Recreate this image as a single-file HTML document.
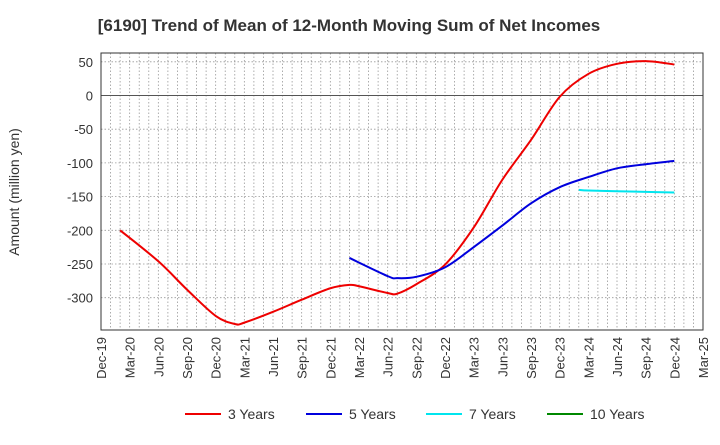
<!DOCTYPE html>
<html><head><meta charset="utf-8"><style>
body{margin:0;background:#fff;font-family:"Liberation Sans",sans-serif}
svg text{font-family:"Liberation Sans",sans-serif}
</style></head><body>
<svg id="c" width="720" height="440" xmlns="http://www.w3.org/2000/svg">
<text x="349" y="31" text-anchor="middle" font-size="17" font-weight="bold" fill="#333">[6190]  Trend of Mean of 12-Month Moving Sum of Net Incomes</text>
<text transform="translate(19,192) rotate(-90)" text-anchor="middle" font-size="14" fill="#333">Amount (million yen)</text>
<g id="grid"></g><g id="series"></g><g id="axes"></g><g id="legend"></g>
</svg>
<script>
const xLabels=["Dec-19","Mar-20","Jun-20","Sep-20","Dec-20","Mar-21","Jun-21","Sep-21","Dec-21","Mar-22","Jun-22","Sep-22","Dec-22","Mar-23","Jun-23","Sep-23","Dec-23","Mar-24","Jun-24","Sep-24","Dec-24","Mar-25"];
const yTicks=[50,0,-50,-100,-150,-200,-250,-300];
// month index (0 = Dec-19)
const m3=[2,6,9,12,14,15,18,21,24,26,27,30,31,33,36,39,42,45,48,51,54,57,60];
const v3=[-200,-246,-288,-327,-339,-337,-321,-303,-286,-281,-283,-293,-294,-280,-251,-196,-125,-66,-2,32,47,51,46];
const m5=[26,30,31,33,36,39,42,45,48,51,54,57,60];
const v5=[-241,-268,-271,-269,-255,-225,-193,-160,-136,-121,-108,-102,-97];
const m7=[50,51,54,57,60];
const v7=[-140,-141,-142,-143,-144];
const m10=[];const v10=[];
const L=101,R=703,T=53,B=330;
const X=i=>L+i*(R-L)/63;
const Y=v=>95.5-v*0.674;
const NS="http://www.w3.org/2000/svg";
function mk(p,t,a){const e=document.createElementNS(NS,t);for(const k in a)e.setAttribute(k,a[k]);p.appendChild(e);return e;}
const g=document.getElementById('grid'),ax=document.getElementById('axes'),s=document.getElementById('series'),lg=document.getElementById('legend');
for(let i=1;i<63;i++){const l=mk(g,'line',{x1:X(i),x2:X(i),y1:T,y2:B,stroke:'#999','stroke-dasharray':'1.5,2','stroke-width':0.8});

}
yTicks.forEach(v=>{const l=mk(g,'line',{x1:L,x2:R,y1:Y(v),y2:Y(v),stroke:v==0?'#555':'#999','stroke-dasharray':v==0?'':'1.5,2','stroke-width':v==0?1:0.8});


const t=mk(ax,'text',{x:L-8,y:Y(v)+5,'text-anchor':'end','font-size':13,fill:'#333'});t.textContent=v;

});
const fr=mk(ax,'rect',{x:L,y:T,width:R-L,height:B-T,fill:'none',stroke:'#333','stroke-width':1});


xLabels.forEach((lb,i)=>{const x=X(i*3);const t=mk(ax,'text',{transform:`translate(${x+5},${B+7}) rotate(-90)`,'text-anchor':'end','font-size':13,fill:'#333'});t.textContent=lb;

});
function path(ms,vs){const p=ms.map((m,i)=>[X(m),Y(vs[i])]);if(!p.length)return'';let d=`M${p[0][0]},${p[0][1]}`;
for(let i=0;i<p.length-1;i++){const p0=p[i-1]||p[i],p1=p[i],p2=p[i+1],p3=p[i+2]||p2;
d+=` C${p1[0]+(p2[0]-p0[0])/6},${p1[1]+(p2[1]-p0[1])/6} ${p2[0]-(p3[0]-p1[0])/6},${p2[1]-(p3[1]-p1[1])/6} ${p2[0]},${p2[1]}`;}return d;}
const ser=[[m3,v3,'#ee0000','3 Years'],[m5,v5,'#0000dd','5 Years'],[m7,v7,'#00e5ee','7 Years'],[m10,v10,'#008800','10 Years']];
ser.forEach((sr,i)=>{if(sr[0].length){const p=mk(s,'path',{d:path(sr[0],sr[1]),fill:'none',stroke:sr[2],'stroke-width':2});

}
const lx=[185,306,426,547][i];
const l=mk(lg,'line',{x1:lx,x2:lx+36,y1:414,y2:414,stroke:sr[2],'stroke-width':2});


const t=mk(lg,'text',{x:lx+43,y:419,'font-size':14,fill:'#333'});t.textContent=sr[3];

});
</script>
</body></html>
